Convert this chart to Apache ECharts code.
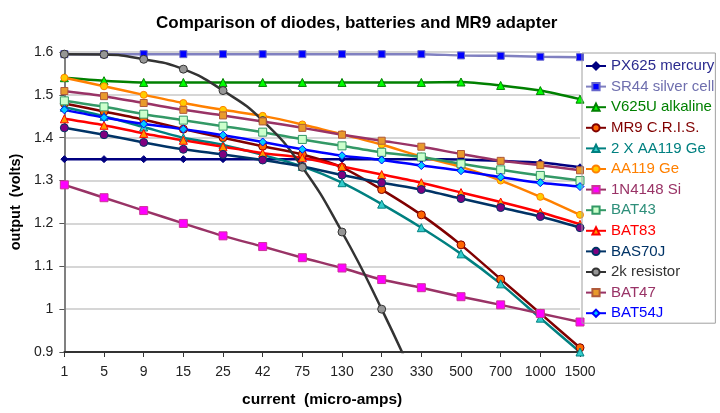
<!DOCTYPE html>
<html><head><meta charset="utf-8">
<script src="https://cdn.jsdelivr.net/npm/echarts@6/dist/echarts.min.js"></script>
<style>html,body{margin:0;padding:0;background:#fff}#c{width:720px;height:413px}</style>
</head><body><div id="c"></div>
<script>
const categories = ['1','5','9','15','25','42','75','130','230','330','500','700','1000','1500'];
const yTicks = [0.9, 1.6, 0.1];
const px625  = [1.35,1.35,1.35,1.35,1.35,1.35,1.35,1.35,1.35,1.35,1.349,1.346,1.342,1.331];
const sr44   = [1.595,1.595,1.595,1.595,1.595,1.595,1.595,1.595,1.595,1.595,1.592,1.591,1.589,1.588];
const v625u  = [1.54,1.533,1.529,1.529,1.529,1.529,1.529,1.529,1.529,1.529,1.53,1.522,1.51,1.49];
const mr9    = [1.48,1.461,1.442,1.42,1.40,1.38,1.361,1.331,1.279,1.22,1.15,1.07,0.99,0.91];
const aa119x2= [1.471,1.45,1.425,1.40,1.383,1.36,1.333,1.295,1.245,1.19,1.129,1.059,0.979,0.90];
const aa119  = [1.54,1.52,1.50,1.481,1.465,1.451,1.431,1.408,1.384,1.356,1.332,1.30,1.262,1.22];
const n4148  = [1.29,1.26,1.23,1.20,1.171,1.146,1.12,1.096,1.069,1.05,1.029,1.01,0.99,0.97];
const bat43  = [1.486,1.472,1.455,1.441,1.427,1.413,1.396,1.381,1.366,1.355,1.339,1.325,1.312,1.30];
const bat83  = [1.444,1.429,1.41,1.394,1.379,1.364,1.353,1.333,1.314,1.295,1.272,1.25,1.226,1.198];
const bas70j = [1.423,1.407,1.389,1.373,1.361,1.348,1.333,1.313,1.295,1.279,1.258,1.237,1.216,1.19];
const r2k    = [1.595,1.594,1.583,1.56,1.51,1.44,1.331,1.18,1.0,0.8,null,null,null,null];
const bat47  = [1.509,1.497,1.481,1.465,1.452,1.438,1.423,1.407,1.393,1.379,1.362,1.346,1.336,1.324];
const bat54j = [1.465,1.447,1.432,1.42,1.406,1.39,1.373,1.358,1.348,1.335,1.323,1.308,1.295,1.286];

const defs = [
  {name:'PX625 mercury', data:px625, line:'#000080', fill:'#000080', border:'#000080', sym:'diamond', size:7, text:'#2b2b8f'},
  {name:'SR44 silver cell', data:sr44, line:'#8080c0', fill:'#0000ff', border:'#6666cc', sym:'rect', size:7, text:'#6f6fae'},
  {name:'V625U alkaline', data:v625u, line:'#008000', fill:'#00ff00', border:'#008000', sym:'triangle', size:8, text:'#008000'},
  {name:'MR9 C.R.I.S.', data:mr9, line:'#800000', fill:'#ff6600', border:'#800000', sym:'circle', size:8, text:'#800000'},
  {name:'2 X AA119 Ge', data:aa119x2, line:'#008080', fill:'#33cccc', border:'#008080', sym:'triangle', size:8, text:'#008080'},
  {name:'AA119 Ge', data:aa119, line:'#ff8000', fill:'#ffcc00', border:'#ff8000', sym:'circle', size:7, text:'#ff8000'},
  {name:'1N4148 Si', data:n4148, line:'#993366', fill:'#ff00ff', border:'#cc3399', sym:'rect', size:8, text:'#993366'},
  {name:'BAT43', data:bat43, line:'#339966', fill:'#ccffcc', border:'#339966', sym:'rect', size:8, text:'#2e8f7a'},
  {name:'BAT83', data:bat83, line:'#ff0000', fill:'#ff9900', border:'#ff0000', sym:'triangle', size:8, text:'#ff0000'},
  {name:'BAS70J', data:bas70j, line:'#003366', fill:'#800080', border:'#003366', sym:'circle', size:8, text:'#003366'},
  {name:'2k resistor', data:r2k, line:'#333333', fill:'#969696', border:'#333333', sym:'circle', size:8, text:'#333333'},
  {name:'BAT47', data:bat47, line:'#993366', fill:'#e89a2c', border:'#b05a3a', sym:'rect', size:7, text:'#993366'},
  {name:'BAT54J', data:bat54j, line:'#0000ff', fill:'#00ccff', border:'#0000ff', sym:'diamond', size:8, text:'#0000ff'}
];

const chart = echarts.init(document.getElementById('c'), null, {renderer:'canvas'});
const FF = '"Liberation Sans", Arial, sans-serif';
chart.setOption({
  animation:false,
  backgroundColor:'#fff',
  textStyle:{fontFamily:FF},
  title:{text:'Comparison of diodes, batteries and MR9 adapter', left:151, top:10,
    textStyle:{fontSize:17, fontWeight:'bold', color:'#000', fontFamily:FF}},
  grid:{left:62, right:140, top:52, bottom:56, containLabel:false},
  legend:{
    orient:'vertical', left:582, top:53,
    borderColor:'#a0a0a0', borderWidth:1, padding:[3,1,0,3],
    itemWidth:20, itemHeight:9, itemGap:0.6,
    textStyle:{fontSize:15, lineHeight:20, fontFamily:FF},
    data: defs.map(d=>({name:d.name, textStyle:{color:d.text}}))
  },
  xAxis:{
    type:'category', data:categories, boundaryGap:false,
    name:'current  (micro-amps)', nameLocation:'middle', nameGap:40,
    nameTextStyle:{fontSize:15.5, fontWeight:'bold', color:'#000', fontFamily:FF},
    axisLine:{lineStyle:{color:'#333', width:2}},
    axisTick:{show:true, length:5, lineStyle:{color:'#333'}},
    axisLabel:{fontSize:14, color:'#222', margin:13, interval:0, fontFamily:'"Liberation Sans Narrow", "Liberation Sans", Arial'},
    splitLine:{show:false}
  },
  yAxis:{
    type:'value', min:yTicks[0], max:yTicks[1], interval:yTicks[2],
    name:'output  (volts)', nameLocation:'middle', nameGap:37, nameRotate:90,
    nameTextStyle:{fontSize:14.5, fontWeight:'bold', color:'#000', fontFamily:FF},
    axisLine:{show:true, lineStyle:{color:'#808080', width:2}},
    axisTick:{show:true, length:5, lineStyle:{color:'#555'}},
    axisLabel:{fontSize:14, color:'#222', margin:11,
      formatter:v=>String(Math.round(v*10)/10)},
    splitLine:{show:true, lineStyle:{color:'#c8c8c8', width:1.5}}
  },
  series: defs.map(d=>({
    name:d.name, type:'line', data:d.data, clip:true,
    smooth: d.name==='2k resistor' ? 0.5 : 0.25,
    connectNulls:false,
    symbol:d.sym, symbolSize:d.size, showSymbol:true,
    lineStyle:{color:d.line, width:2.5},
    itemStyle:{color:d.fill, borderColor:d.border, borderWidth:1},
    emphasis:{disabled:true}
  }))
});
</script></body></html>
